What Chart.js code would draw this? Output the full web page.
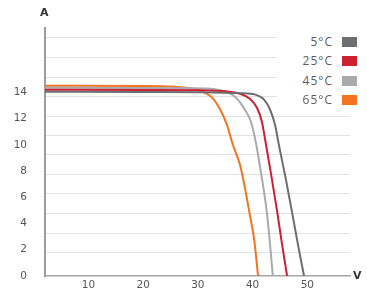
<!DOCTYPE html>
<html>
<head>
<meta charset="utf-8">
<script src="https://cdn.jsdelivr.net/npm/chart.js@4/dist/chart.umd.min.js"></script>
<style>
  body { margin: 0; background: #fff; font-family: "Open Sans", sans-serif; overflow: hidden; }
  #wrap { position: relative; width: 367px; height: 290px; }
  #chart { display: block; }
  .axisName { position: absolute; font-family: "DejaVu Sans", sans-serif; font-size: 11px; font-weight: bold; color: #333; }
  #legend { position: absolute; left: 277px; top: 28px; width: 90px; height: 78px; background: #fff; }
  .row { position: absolute; left: 0; width: 90px; height: 14px; }
  .row span { position: absolute; right: 34px; font-size: 12px; letter-spacing: 1px; line-height: 14px; color: #5c5c5c; }
  .row i { position: absolute; left: 65px; top: 2px; width: 15px; height: 10px; }
</style>
</head>
<body>
<div id="wrap">
  <canvas id="chart" width="367" height="290"></canvas>
  <div class="axisName" style="left:40px;top:6px;">A</div>
  <div class="axisName" style="left:353px;top:269px;">V</div>
  <div id="legend"></div>
</div>
<script>
// series labels and colours
const labels = ['5°C', '25°C', '45°C', '65°C'];
const colors = ['#6d6e71', '#cf1f33', '#a8aaad', '#f47321'];

// I-V curves (volts, amps)
const volt5 = [0, 20, 30.4, 37.7, 40.5, 42.1, 43.2, 44.1, 44.8, 46.1, 47.2, 48.3, 49.4];
const amp5 = [14.05, 14.03, 14.01, 13.93, 13.82, 13.44, 12.67, 11.53, 10.0, 7.33, 4.89, 2.37, 0];

const volt25 = [0, 20, 30.4, 35.0, 37.7, 39.5, 40.8, 41.7, 42.3, 43.4, 44.5, 45.4, 46.3];
const amp25 = [14.2, 14.18, 14.16, 14.08, 13.89, 13.51, 12.82, 11.76, 10.38, 7.71, 4.89, 2.37, 0];

const volt45 = [0, 20, 28.6, 33.1, 36.8, 38.6, 39.7, 40.5, 41.6, 42.6, 43.2, 43.7];
const amp45 = [14.35, 14.33, 14.31, 14.24, 13.66, 12.67, 11.76, 10.38, 7.71, 4.89, 2.37, 0];

const volt65 = [0, 20, 23.1, 27.7, 30.4, 32.6, 34.1, 35.3, 36.4, 37.7, 38.6, 39.5, 40.3, 41.0];
const amp65 = [14.5, 14.48, 14.47, 14.35, 14.12, 13.59, 12.67, 11.53, 10.0, 8.47, 6.72, 4.66, 2.75, 0];

// tick labels
const xTicks = [10, 20, 30, 40, 50];
const yTicks = [0, 2, 4, 6, 8, 10, 12, 14];
// the picture's grid lines do not sit on the labels (amps)
const gridLines = [1.83, 3.31, 4.80, 6.29, 7.77, 9.26, 10.75, 12.23, 13.72, 15.2, 16.69, 18.18];

const volts = [volt5, volt25, volt45, volt65];
const amps = [amp5, amp25, amp45, amp65];

const datasets = labels.map((lab, k) => ({
    label: lab,
    data: volts[k].map((v, j) => ({ x: v, y: amps[k][j] })),
    borderColor: colors[k],
    borderWidth: 2,
    pointRadius: 0,
    cubicInterpolationMode: 'monotone',
    fill: false
}));

// grid lines placed through the y scale, painted behind what is already drawn
const looseGrid = {
    id: 'looseGrid',
    afterDatasetsDraw(chart) {
        const { ctx, chartArea, scales } = chart;
        ctx.save();
        ctx.globalCompositeOperation = 'destination-over';
        ctx.strokeStyle = '#e2e2e2';
        ctx.lineWidth = 1;
        gridLines.forEach(v => {
            const py = Math.round(scales.y.getPixelForValue(v)) + 0.5;
            ctx.beginPath();
            ctx.moveTo(chartArea.left + 1, py);
            ctx.lineTo(chartArea.right, py);
            ctx.stroke();
        });
        ctx.restore();
    }
};

const tickFont = { family: 'DejaVu Sans', size: 10.5 };

new Chart(document.getElementById('chart'), {
    type: 'line',
    data: { datasets: datasets },
    plugins: [looseGrid],
    options: {
        responsive: false,
        animation: false,
        devicePixelRatio: 1,
        layout: { padding: { top: 28, right: 17, left: 0, bottom: 0 } },
        plugins: { legend: { display: false }, tooltip: { enabled: false } },
        scales: {
            x: {
                type: 'linear',
                min: 2.07,
                max: 57.8,
                grid: { display: false, drawTicks: false },
                border: { color: '#a6a6a6', width: 1.5 },
                ticks: {
                    stepSize: 10,
                    autoSkip: false,
                    maxRotation: 0,
                    padding: 3,
                    color: '#555',
                    font: tickFont,
                    callback: v => xTicks.includes(v) ? v : ''
                },
                afterFit: s => { s.height = 14; }
            },
            y: {
                type: 'linear',
                min: 0,
                max: 18.9,
                // tick marks are not drawn; tickLength only pushes the labels away from the axis
                grid: { display: false, drawTicks: true, tickLength: 15 },
                border: { color: '#9c9c9c', width: 2 },
                ticks: {
                    stepSize: 2,
                    padding: 3,
                    color: '#555',
                    font: tickFont,
                    callback: v => yTicks.includes(v) ? v : ''
                },
                afterFit: s => { s.width = 45; }
            }
        }
    }
});

// legend: text on the left, colour box on the right
const legend = document.getElementById('legend');
const rowTops = [7, 26, 46, 65];
labels.forEach((lab, k) => {
    const row = document.createElement('div');
    row.className = 'row';
    row.style.top = rowTops[k] + 'px';
    row.innerHTML = '<span>' + lab + '</span><i style="background:' + colors[k] + '"></i>';
    legend.appendChild(row);
});
</script>
</body>
</html>
